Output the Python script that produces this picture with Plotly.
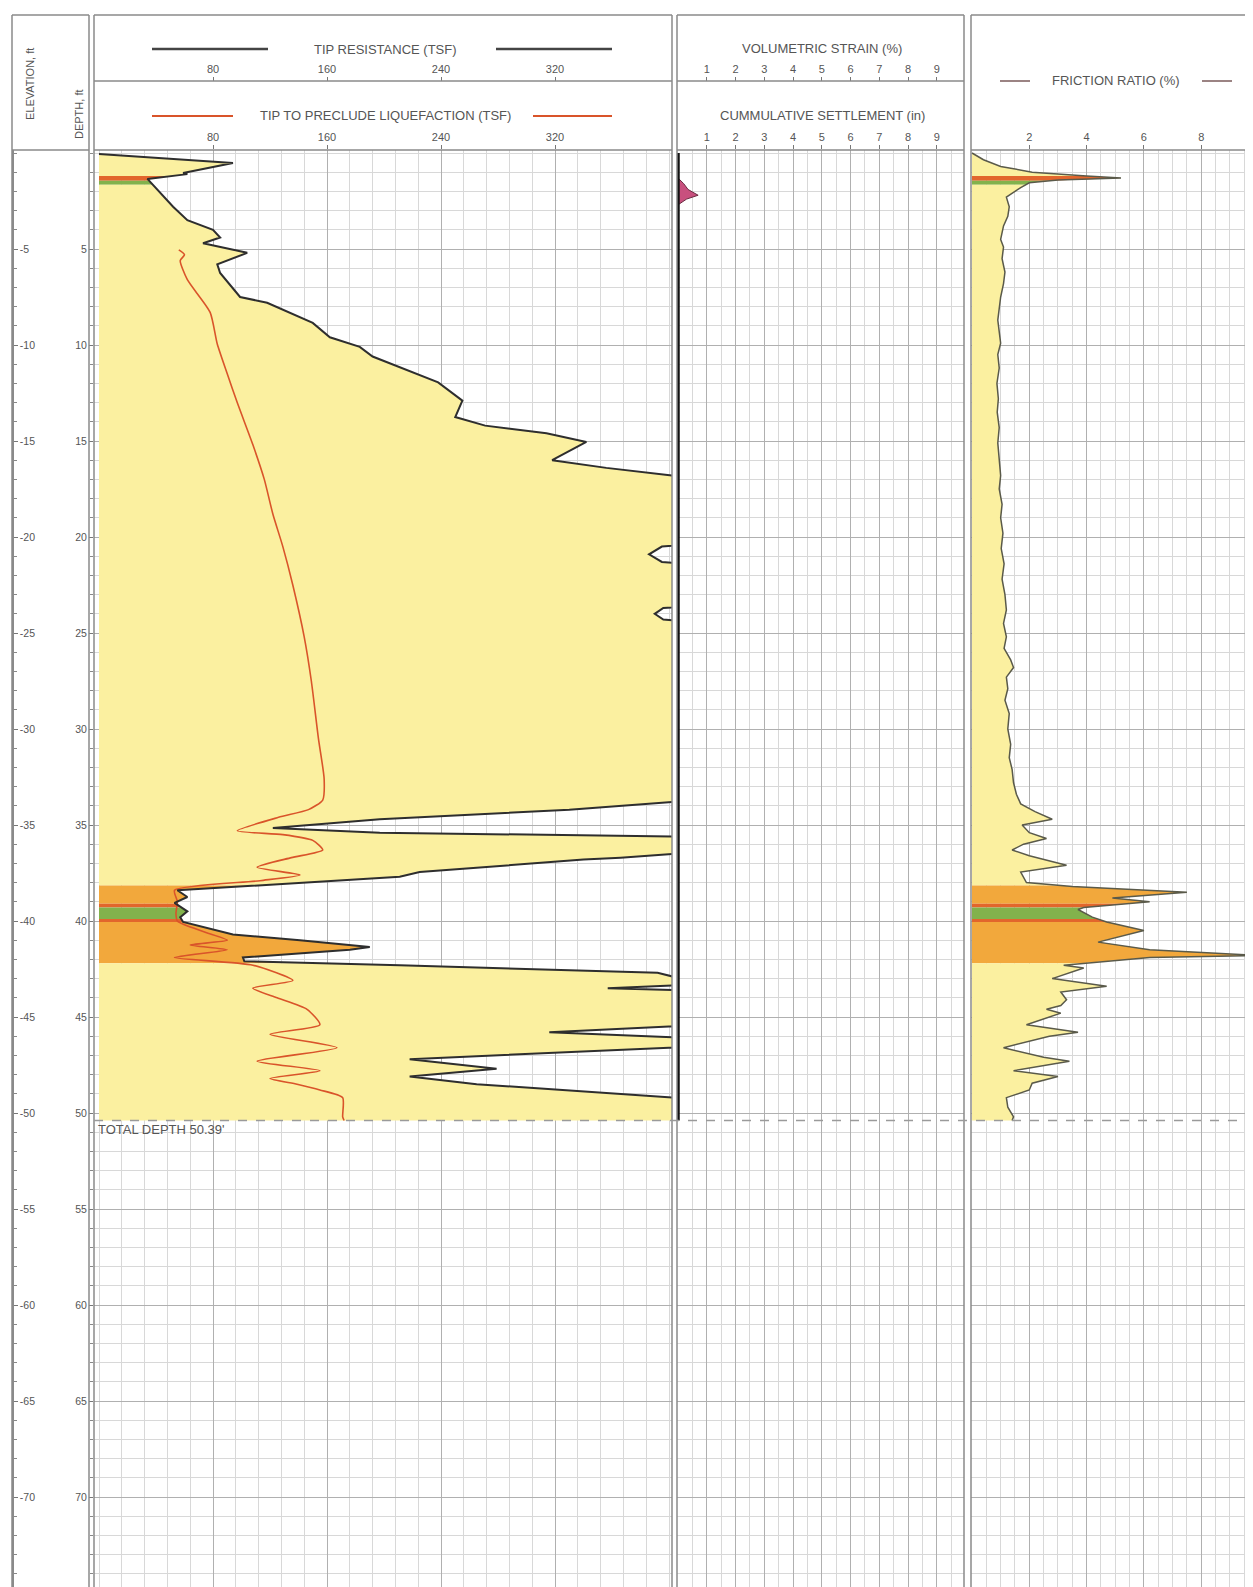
import numpy as np
import plotly.graph_objects as go

W, H = 1253, 1587          # target page size
OFF = 8                    # default page margin around the plot div
WF, HF = W - OFF, H - OFF  # figure size

# ---------------- data ----------------
TOTAL_DEPTH = 50.39

QC_DEPTH = [0.05, 0.52, 1.04, 1.1, 1.35, 2.1, 2.8, 3.5, 4.0, 4.4, 4.7, 5.2, 5.8, 6.25, 7.5, 7.8,
            8.85, 9.6, 10.1, 10.6, 11.15, 11.95, 12.9, 13.75, 14.2, 14.6, 15.05, 16.0, 16.4, 16.8,
            17.1, 20.2, 20.5, 20.9, 21.3, 21.6, 23.4, 23.7, 24.0, 24.3, 24.6, 33.6, 33.8, 34.2,
            34.7, 35.15, 35.4, 35.6, 35.75, 36.4, 36.5, 36.7, 36.8, 37.45, 37.7, 38.4, 38.75,
            39.06, 39.5, 39.8, 40.05, 40.5, 40.7, 41.0, 41.25, 41.35, 41.5, 41.9, 42.1, 42.3,
            42.7, 42.9, 43.1, 43.3, 43.5, 43.6, 43.7, 45.4, 45.5, 45.8, 46.1, 46.2, 46.5, 46.6,
            47.2, 47.7, 48.1, 48.5, 49.2, 49.3, 50.39]
QC = [0, 94, 59, 62, 34, 43, 52, 62, 80, 85, 73, 104, 83, 85, 99, 118,
      150, 162, 183, 192, 211, 238, 255, 250, 271, 314, 342, 318, 356, 402,
      450, 450, 395, 386, 395, 450, 450, 396, 390, 396, 450, 450, 403, 330,
      197, 122, 197, 403, 450, 450, 403, 366, 340, 225, 211, 55, 62,
      53, 62, 57, 59, 83, 94, 141, 176, 190, 176, 101, 102, 211,
      392, 403, 450, 420, 357, 410, 450, 450, 400, 316, 400, 450, 450, 400,
      218, 279, 218, 265, 403, 450, 450]

QLIQ_DEPTH = [5.05, 5.3, 5.6, 6.6, 8.3, 9.95, 11.5, 13.0, 15.2, 17.0, 18.8, 20.5, 22.5, 25.2,
              27.5, 30.5, 32.6, 33.7, 34.2, 34.6, 35.3, 35.5, 35.8, 36.3, 36.7, 37.2, 37.6,
              37.9, 38.4, 39.0, 39.6, 40.0, 40.2, 40.6, 41.0, 41.25, 41.5, 41.9, 42.3, 43.1,
              43.5, 44.0, 44.6, 45.4, 45.9, 46.6, 47.3, 47.8, 48.2, 48.5, 48.8, 49.2, 50.2, 50.39]
QLIQ = [56, 60, 57, 62, 78, 83, 90, 97, 108, 116, 122, 129, 136, 144,
        149, 154, 158, 157, 147, 126, 97, 129, 150, 157, 135, 111, 141,
        113, 53, 55, 54, 55, 60, 75, 90, 64, 90, 53, 108, 136,
        108, 125, 146, 155, 120, 167, 111, 155, 120, 139, 155, 171, 171, 172]

FR_DEPTH = [0.0, 0.35, 0.7, 1.0, 1.2, 1.3, 1.4, 1.55, 1.8, 2.3, 2.8, 3.3, 3.8, 4.5, 4.9, 5.5,
            6.2, 6.8, 7.5, 8.2, 8.7, 9.3, 9.9, 10.5, 11.2, 12.0, 12.8, 13.5, 14.3, 15.1, 16.0,
            16.8, 17.5, 18.3, 19.0, 19.8, 20.6, 21.4, 22.2, 23.0, 23.8, 24.5, 25.2, 25.8, 26.4,
            26.8, 27.3, 27.9, 28.5, 29.2, 30.0, 30.8, 31.5, 32.1, 32.8, 33.4, 33.9, 34.3, 34.7,
            35.0, 35.4, 35.7, 36.0, 36.3, 36.6, 37.1, 37.45, 38.0, 38.2, 38.5, 38.8, 39.0, 39.3,
            39.4, 39.8, 40.05, 40.5, 41.1, 41.5, 41.8, 41.9, 42.2, 42.3, 42.45, 43.0, 43.4, 43.7,
            44.1, 44.4, 44.6, 44.8, 45.4, 45.8, 46.0, 46.6, 47.1, 47.3, 47.8, 48.1, 48.45, 48.8,
            49.2, 49.7, 50.2, 50.39]
FR = [0.0, 0.4, 1.0, 2.1, 4.0, 5.2, 3.0, 2.0, 1.7, 1.2, 1.3, 1.25, 1.1, 1.0, 1.1, 1.05,
      1.15, 1.1, 1.0, 0.95, 0.9, 0.95, 1.0, 0.9, 0.95, 0.87, 0.92, 0.88, 0.95, 0.9, 0.95,
      1.0, 0.95, 1.05, 1.0, 1.08, 1.02, 1.12, 1.05, 1.15, 1.2, 1.1, 1.2, 1.12, 1.35,
      1.45, 1.2, 1.25, 1.15, 1.3, 1.25, 1.35, 1.3, 1.4, 1.45, 1.55, 1.7, 2.2, 2.8,
      1.75, 2.0, 2.6, 1.8, 1.4, 2.0, 3.3, 1.7, 1.9, 3.5, 7.5, 4.9, 6.2, 3.9,
      3.7, 4.2, 4.7, 6.0, 4.4, 6.2, 10.0, 6.2, 3.8, 3.2, 3.9, 2.8, 4.7, 3.1,
      3.3, 3.1, 2.6, 3.1, 1.9, 3.7, 2.7, 1.1, 2.5, 3.4, 1.45, 3.0, 2.1, 2.0,
      1.2, 1.25, 1.45, 1.4]

VS_DEPTH = [1.3, 1.6, 1.9, 2.2, 2.4, 2.7]
VS = [0.0, 0.2, 0.35, 0.7, 0.3, 0.0]

SETTLE_DEPTH = [0.0, TOTAL_DEPTH]
SETTLE = [0.0, 0.0]

ZONE_TOP = [0.0, 1.2, 1.45, 1.65, 38.15, 39.1, 39.3, 39.9, 40.05, 42.2]
ZONE_BOTTOM = [1.2, 1.45, 1.65, 38.15, 39.1, 39.3, 39.9, 40.05, 42.2, TOTAL_DEPTH]
ZONE_TYPE = ["sand", "clayey", "silty", "sand", "mix", "clayey", "silty", "clayey", "mix", "sand"]

QC_TICKS = [80, 160, 240, 320]
STRAIN_TICKS = [1, 2, 3, 4, 5, 6, 7, 8, 9]
FR_TICKS = [2, 4, 6, 8]
DEPTH_TICKS = list(range(5, 75, 5))

# ---------------- styling ----------------
ZONE_COLORS = {"sand": "#FBF0A0", "mix": "#F2A83C", "clayey": "#E2662C", "silty": "#82B24C"}
FONT = "Liberation Sans, Arial, sans-serif"
TXT = "#555555"
FRAME = "#8a8a8a"
GRID_MAJ = "#b0b0b0"
GRID_MIN = "#d8d8d8"


def px(x):
    return (x - OFF) / WF


def py(y):
    return 1 - (y - OFF) / HF


def zone_poly(depths, vals, top, bot):
    d = np.asarray(depths, float)
    v = np.asarray(vals, float)
    vt = float(np.interp(top, d, v))
    vb = float(np.interp(bot, d, v))
    m = (d > top) & (d < bot)
    xs = [0.0, vt] + list(v[m]) + [vb, 0.0]
    ys = [top, top] + list(d[m]) + [bot, bot]
    return xs, ys


fig = go.Figure()

# panel 1 fills (tip resistance)
for t, b, z in zip(ZONE_TOP, ZONE_BOTTOM, ZONE_TYPE):
    xs, ys = zone_poly(QC_DEPTH, QC, t, b)
    fig.add_trace(go.Scatter(x=xs, y=ys, xaxis="x", yaxis="y", mode="lines", fill="toself",
                             fillcolor=ZONE_COLORS[z], line=dict(width=0), hoverinfo="skip",
                             showlegend=False))
fig.add_trace(go.Scatter(x=QLIQ, y=QLIQ_DEPTH, xaxis="x", yaxis="y", mode="lines",
                         line=dict(color="#D9542A", width=1.6, shape="spline", smoothing=0.6),
                         showlegend=False, name="Tip to preclude liquefaction"))
fig.add_trace(go.Scatter(x=QC, y=QC_DEPTH, xaxis="x", yaxis="y", mode="lines",
                         line=dict(color="#2e2e2e", width=2), showlegend=False,
                         name="Tip resistance"))

# panel 2 (volumetric strain / settlement)
fig.add_trace(go.Scatter(x=VS, y=VS_DEPTH, xaxis="x2", yaxis="y2", mode="lines", fill="toself",
                         fillcolor="#C8507E", line=dict(color="#6a2a40", width=1),
                         showlegend=False, name="Volumetric strain"))
fig.add_trace(go.Scatter(x=SETTLE, y=SETTLE_DEPTH, xaxis="x2", yaxis="y2", mode="lines",
                         line=dict(color="#111111", width=3.5), showlegend=False,
                         name="Cumulative settlement"))

# panel 3 (friction ratio)
for t, b, z in zip(ZONE_TOP, ZONE_BOTTOM, ZONE_TYPE):
    xs, ys = zone_poly(FR_DEPTH, FR, t, b)
    fig.add_trace(go.Scatter(x=xs, y=ys, xaxis="x3", yaxis="y3", mode="lines", fill="toself",
                             fillcolor=ZONE_COLORS[z], line=dict(width=0), hoverinfo="skip",
                             showlegend=False))
fig.add_trace(go.Scatter(x=FR, y=FR_DEPTH, xaxis="x3", yaxis="y3", mode="lines",
                         line=dict(color="#5a5a4a", width=1.5), showlegend=False,
                         name="Friction ratio"))

# placeholder traces so overlay axes render
fig.add_trace(go.Scatter(x=[None], y=[None], xaxis="x4", yaxis="y", showlegend=False, hoverinfo="skip"))
fig.add_trace(go.Scatter(x=[None], y=[None], xaxis="x5", yaxis="y2", showlegend=False, hoverinfo="skip"))
fig.add_trace(go.Scatter(x=[None], y=[None], xaxis="x", yaxis="y4", showlegend=False, hoverinfo="skip"))

Y_TOP_PX, D0_PX, PX_PER_FT = 150, 153, 19.2
y_range = [(H - D0_PX) / PX_PER_FT, (Y_TOP_PX - D0_PX) / PX_PER_FT]
y_dom = [0, py(Y_TOP_PX)]

P1 = (94, 672)
P2 = (677, 964)
P3 = (971, 1253)
x1_range = [(P1[0] - 99) / 1.425, (P1[1] - 99) / 1.425]
x2_range = [(P2[0] - 678) / 28.75, (P2[1] - 678) / 28.75]
x3_range = [(P3[0] - 972) / 28.65, (P3[1] - 972) / 28.65]

tickfont = dict(family=FONT, size=11, color=TXT)
sidefont = dict(family=FONT, size=10.5, color=TXT)


def xax(dom, rng, ticks, anchor, minor_dtick):
    return dict(domain=[px(dom[0]), min(1, px(dom[1]))], range=rng, anchor=anchor, side="top",
                tickmode="array", tickvals=ticks, ticks="outside", ticklen=4, tickcolor="#777",
                tickfont=tickfont, showgrid=True, gridcolor=GRID_MAJ, gridwidth=1,
                minor=dict(tick0=0, dtick=minor_dtick, showgrid=True, gridcolor=GRID_MIN, gridwidth=1),
                zeroline=False, showline=False)


def yax(anchor, labels):
    return dict(domain=y_dom, range=y_range, anchor=anchor, tickmode="array",
                tickvals=DEPTH_TICKS, showticklabels=labels, ticks="outside" if labels else "",
                ticklen=4, tickcolor="#777", tickfont=sidefont, showgrid=True, gridcolor=GRID_MAJ,
                minor=dict(tick0=0, dtick=1, showgrid=True, gridcolor=GRID_MIN,
                           ticks="outside" if labels else "", ticklen=3, tickcolor="#888"),
                zeroline=False, showline=False)


layout = dict(
    width=WF, height=HF, margin=dict(l=0, r=0, t=0, b=0),
    paper_bgcolor="white", plot_bgcolor="white", showlegend=False,
    font=dict(family=FONT, color=TXT),
    xaxis=xax(P1, x1_range, QC_TICKS, "y", 16),
    xaxis2=xax(P2, x2_range, STRAIN_TICKS, "y2", 0.5),
    xaxis3=xax(P3, x3_range, FR_TICKS, "y3", 0.5),
    xaxis4=dict(overlaying="x", anchor="free", position=py(81), side="top", range=x1_range,
                tickmode="array", tickvals=QC_TICKS, ticks="outside", ticklen=4, tickcolor="#777",
                tickfont=tickfont, showgrid=False, zeroline=False, showline=False),
    xaxis5=dict(overlaying="x2", anchor="free", position=py(81), side="top", range=x2_range,
                tickmode="array", tickvals=STRAIN_TICKS, ticks="outside", ticklen=4, tickcolor="#777",
                tickfont=tickfont, showgrid=False, zeroline=False, showline=False),
    yaxis=yax("x", True),
    yaxis2=dict(yax("x2", False), matches="y"),
    yaxis3=dict(yax("x3", False), matches="y"),
    yaxis4=dict(overlaying="y", anchor="free", position=px(13), side="right",
                range=[-y_range[0], -y_range[1]], tickmode="array",
                tickvals=[-d for d in DEPTH_TICKS], ticktext=["-%d" % d for d in DEPTH_TICKS],
                ticks="outside", ticklen=4, tickcolor="#777", tickfont=sidefont,
                minor=dict(tick0=0, dtick=1, ticks="outside", ticklen=3, tickcolor="#888"),
                showgrid=False, zeroline=False, showline=True, linecolor=FRAME, linewidth=1.5),
)
fig.update_layout(**layout)

# frames
shapes = []


def line(x0, y0, x1, y1, color=FRAME, width=1.5, dash=None):
    d = dict(type="line", xref="paper", yref="paper", x0=px(x0), y0=py(y0), x1=px(x1), y1=py(y1),
             line=dict(color=color, width=width))
    if dash:
        d["line"]["dash"] = dash
    return d


shapes += [line(12, 15, 89, 15), line(12, 15, 12, H), line(89, 15, 89, H), line(12, 150, 89, 150)]
for (a, b) in (P1, P2, P3):
    shapes += [line(a, 15, b, 15), line(a, 15, a, H), line(b, 15, b, H), line(a, 150, b, 150)]
shapes += [line(P1[0], 81, P1[1], 81), line(P2[0], 81, P2[1], 81)]
shapes += [line(152, 49, 268, 49, "#444", 2.5), line(496, 49, 612, 49, "#444", 2.5),
           line(152, 116, 233, 116, "#D9542A", 2), line(533, 116, 612, 116, "#D9542A", 2),
           line(1000, 81, 1030, 81, "#7a5a5a", 1.5), line(1202, 81, 1232, 81, "#7a5a5a", 1.5)]
shapes.append(dict(type="line", xref="paper", yref="y", x0=px(P1[0]), x1=1, y0=TOTAL_DEPTH,
                   y1=TOTAL_DEPTH, line=dict(color="#9a9a9a", width=1.5, dash="dash")))
fig.update_layout(shapes=shapes)

hfont = dict(family=FONT, size=13, color=TXT)
ann = [
    dict(text="TIP RESISTANCE (TSF)", x=px(385), y=py(49)),
    dict(text="TIP TO PRECLUDE LIQUEFACTION (TSF)", x=px(385), y=py(116)),
    dict(text="VOLUMETRIC STRAIN (%)", x=px(822), y=py(48)),
    dict(text="CUMMULATIVE SETTLEMENT (in)", x=px(822), y=py(116)),
    dict(text="FRICTION RATIO (%)", x=px(1116), y=py(81)),
    dict(text="ELEVATION, ft", x=px(30), y=py(84), textangle=-90),
    dict(text="DEPTH, ft", x=px(79), y=py(114), textangle=-90),
]
for a in ann:
    a.update(xref="paper", yref="paper", showarrow=False, font=hfont, xanchor="center", yanchor="middle")
ann[5]["font"] = dict(family=FONT, size=11, color=TXT)
ann[6]["font"] = dict(family=FONT, size=11, color=TXT)
ann.append(dict(text="TOTAL DEPTH 50.39'", xref="x", yref="y", x=x1_range[0] + 1.5, y=TOTAL_DEPTH,
                xanchor="left", yanchor="top", showarrow=False, font=dict(family=FONT, size=13, color=TXT)))
fig.update_layout(annotations=ann)

fig.write_html("out.html")
